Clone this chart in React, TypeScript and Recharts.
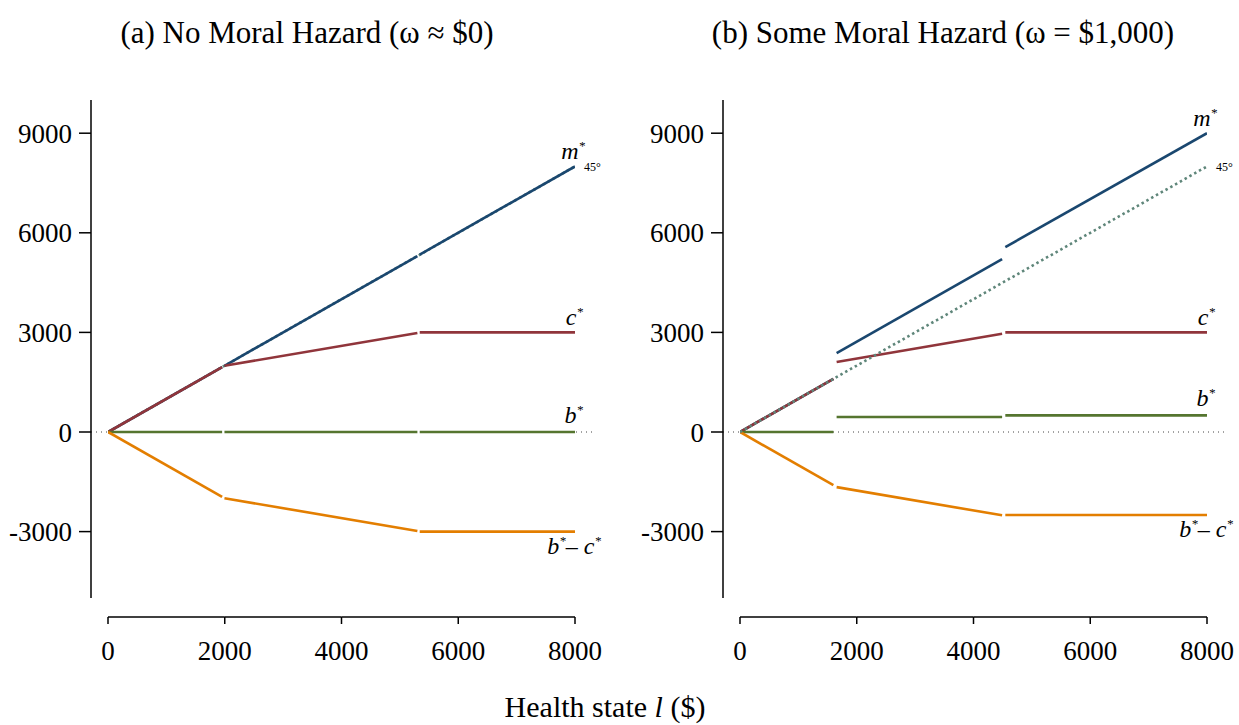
import React from "react";
import { LineChart, Line, XAxis, YAxis, ReferenceLine, ReferenceDot } from "recharts";

// ---------- data ----------
const xTicks = [0, 2000, 4000, 6000, 8000];
const yTicks = [-3000, 0, 3000, 6000, 9000];

// Panel (a): No moral hazard — segment breakpoints along health state l
const aSegL = [[0, 1955], [1995, 5300], [5340, 8000]];
const aM = [[0, 1955], [1995, 5300], [5340, 8000]];
const aC = [[0, 1955], [1995, 2980], [3000, 3000]];
const aB = [[0, 0], [0, 0], [0, 0]];
const aBC = [[0, -1955], [-1995, -2980], [-3000, -3000]];

// Panel (b): Some moral hazard
const bSegL = [[0, 1600], [1655, 4490], [4545, 8000]];
const bM = [[0, 1600], [2375, 5210], [5570, 9000]];
const bC = [[0, 1600], [2110, 2960], [3000, 3000]];
const bB = [[0, 0], [450, 450], [500, 500]];
const bBC = [[0, -1600], [-1660, -2510], [-2500, -2500]];

const line45L = [0, 8000];

const titleA = "(a) No Moral Hazard (ω ≈ $0)";
const titleB = "(b) Some Moral Hazard (ω = $1,000)";

// ---------- style ----------
const SERIF = "'Liberation Serif', 'Times New Roman', serif";
const COL = {
  m: "#1a476f",
  c: "#90353b",
  b: "#55752f",
  bc: "#e37e00",
  d45: "#5f867a",
};
const CH_W = 620;
const CH_H = 725;
const Y_W = 91;
const M_TOP = 100;
const M_RIGHT = 28;
const PLOT_W = CH_W - Y_W - M_RIGHT;
const PAD = 17;
const STEP = (PLOT_W - 2 * PAD) / (xTicks.length - 1);
const DROP = 19;

const segData = (segL: number[][], vals: number[][], i: number) => [
  { l: segL[i][0], v: vals[i][0] },
  { l: segL[i][1], v: vals[i][1] },
];

const XTick = (props: any) => {
  const { x, y, payload, index } = props;
  return (
    <g>
      {index < xTicks.length - 1 && (
        <line x1={x} x2={x + STEP} y1={y + DROP} y2={y + DROP} stroke="#000" strokeWidth={1.5} />
      )}
      <line x1={x} x2={x} y1={y + DROP} y2={y + DROP + 7} stroke="#000" strokeWidth={1.5} />
      <text x={x} y={y + DROP + 43} textAnchor="middle" fontFamily={SERIF} fontSize={27} fill="#000">
        {payload.value}
      </text>
    </g>
  );
};

const starLabel = (letter: string, dx: number, dy: number) => (p: any) => {
  const vb = p.viewBox || {};
  const x = (vb.x ?? 0) + (vb.width ?? 0) / 2 + dx;
  const y = (vb.y ?? 0) + (vb.height ?? 0) / 2 + dy;
  return (
    <text x={x} y={y} textAnchor="end" fontFamily={SERIF} fontStyle="italic" fontSize={24} fill="#000">
      {letter}
      <tspan fontSize={13} dy={-9}>*</tspan>
    </text>
  );
};

const bcLabel = (dx: number, dy: number) => (p: any) => {
  const vb = p.viewBox || {};
  const x = (vb.x ?? 0) + (vb.width ?? 0) / 2 + dx;
  const y = (vb.y ?? 0) + (vb.height ?? 0) / 2 + dy;
  return (
    <text x={x} y={y} textAnchor="end" fontFamily={SERIF} fontStyle="italic" fontSize={24} fill="#000">
      b<tspan fontSize={13} dy={-9}>*</tspan>
      <tspan dy={9} fontStyle="normal">–</tspan>
      <tspan> c</tspan>
      <tspan fontSize={13} dy={-9}>*</tspan>
    </text>
  );
};

const degLabel = (dx: number, dy: number) => (p: any) => {
  const vb = p.viewBox || {};
  const x = (vb.x ?? 0) + (vb.width ?? 0) / 2 + dx;
  const y = (vb.y ?? 0) + (vb.height ?? 0) / 2 + dy;
  return (
    <text x={x} y={y} textAnchor="start" fontFamily={SERIF} fontSize={12} fill="#000">
      45°
    </text>
  );
};

type PanelProps = {
  segL: number[][];
  m: number[][];
  c: number[][];
  b: number[][];
  bc: number[][];
  show45: boolean;
};

const seriesLines = (key: string, segL: number[][], vals: number[][], color: string) =>
  [0, 1, 2].map((i) => (
    <Line
      key={key + i}
      data={segData(segL, vals, i)}
      dataKey="v"
      type="linear"
      stroke={color}
      strokeWidth={2.6}
      strokeLinecap="butt"
      dot={false}
      activeDot={false}
      isAnimationActive={false}
    />
  ));

const Panel = ({ segL, m, c, b, bc, show45 }: PanelProps) => {
  const d45 = [
    { l: line45L[0], v: line45L[0] },
    { l: line45L[1], v: line45L[1] },
  ];
  return (
    <LineChart width={CH_W} height={CH_H} margin={{ top: M_TOP, right: M_RIGHT, left: 0, bottom: 47 }}>
      <XAxis
        dataKey="l"
        type="number"
        domain={[0, 8000]}
        ticks={xTicks}
        interval={0}
        padding={{ left: PAD, right: PAD }}
        axisLine={false}
        tickLine={false}
        tickSize={0}
        tickMargin={0}
        height={80}
        tick={<XTick />}
        allowDataOverflow
      />
      <YAxis
        type="number"
        domain={[-5000, 10000]}
        ticks={yTicks}
        interval={0}
        width={Y_W}
        axisLine={{ stroke: "#000", strokeWidth: 1.5 }}
        tickLine={{ stroke: "#000", strokeWidth: 1.5 }}
        tickSize={12}
        tickMargin={7}
        tick={{ fill: "#000", fontSize: 27, fontFamily: SERIF }}
        allowDataOverflow
      />
      <ReferenceLine y={0} stroke="#444" strokeWidth={1} strokeDasharray="1 4" />
      {!show45 && (
        <Line
          data={d45}
          dataKey="v"
          stroke={COL.d45}
          strokeWidth={2.6}
          strokeDasharray="2.5 3"
          dot={false}
          activeDot={false}
          isAnimationActive={false}
        />
      )}
      {seriesLines("m", segL, m, COL.m)}
      {seriesLines("c", segL, c, COL.c)}
      {seriesLines("b", segL, b, COL.b)}
      {seriesLines("bc", segL, bc, COL.bc)}
      {show45 && (
        <Line
          data={d45}
          dataKey="v"
          stroke={COL.d45}
          strokeWidth={2.6}
          strokeDasharray="2.5 3"
          dot={false}
          activeDot={false}
          isAnimationActive={false}
        />
      )}
      <ReferenceDot x={segL[2][1]} y={m[2][1]} r={1} fill="none" stroke="none" label={starLabel("m", 10, -7)} />
      <ReferenceDot x={line45L[1]} y={line45L[1]} r={1} fill="none" stroke="none" label={degLabel(9, 5)} />
      <ReferenceDot x={segL[2][1]} y={c[2][1]} r={1} fill="none" stroke="none" label={starLabel("c", 8, -7)} />
      <ReferenceDot x={segL[2][1]} y={b[2][1]} r={1} fill="none" stroke="none" label={starLabel("b", 8, -9)} />
      <ReferenceDot x={segL[2][1]} y={bc[2][1]} r={1} fill="none" stroke="none" label={bcLabel(26, 22)} />
    </LineChart>
  );
};

export default function App() {
  return (
    <div style={{ position: "absolute", left: 0, top: 0, width: 1239, height: 725, background: "#fff" }}>
      <svg width={1239} height={725} style={{ position: "absolute", left: 0, top: 0 }}>
        <text x={307} y={43} textAnchor="middle" fontFamily={SERIF} fontSize={31} fill="#000">
          {titleA}
        </text>
        <text x={943} y={43} textAnchor="middle" fontFamily={SERIF} fontSize={31} fill="#000">
          {titleB}
        </text>
        <text x={605} y={717} textAnchor="middle" fontFamily={SERIF} fontSize={30} fill="#000">
          Health state <tspan fontStyle="italic">l</tspan> ($)
        </text>
      </svg>
      <div style={{ position: "absolute", left: 0, top: 0 }}>
        <Panel segL={aSegL} m={aM} c={aC} b={aB} bc={aBC} show45={false} />
      </div>
      <div style={{ position: "absolute", left: 632, top: 0 }}>
        <Panel segL={bSegL} m={bM} c={bC} b={bB} bc={bBC} show45={true} />
      </div>
    </div>
  );
}
